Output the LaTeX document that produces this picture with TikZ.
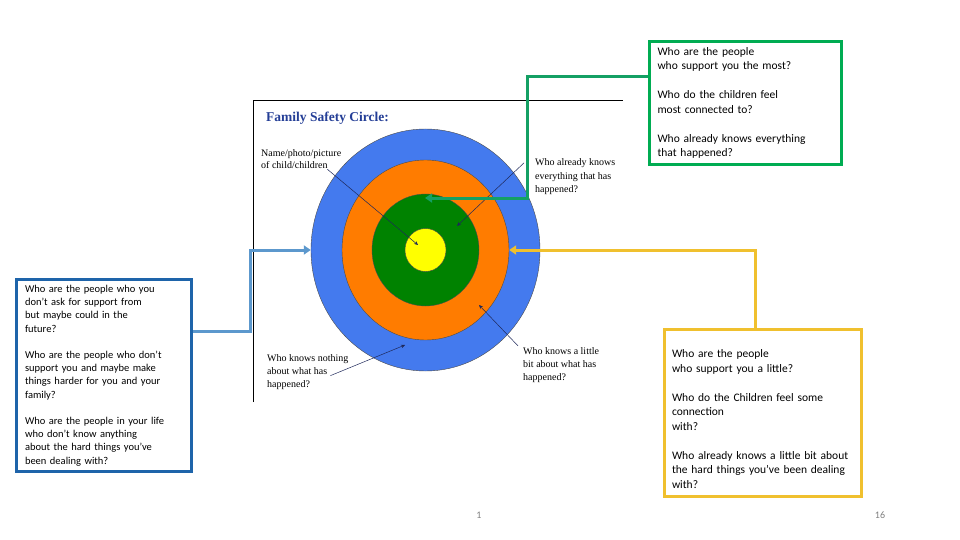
\documentclass[tikz,border=0pt]{standalone}
\usepackage{fontspec}
\setmainfont{Carlito}
\newfontfamily\imgfont{Liberation Serif}
\usetikzlibrary{shapes.geometric, arrows.meta, calc}
\definecolor{ringblue}{RGB}{68,122,238}
\definecolor{ringorange}{RGB}{255,124,0}
\definecolor{ringgreen}{RGB}{0,130,0}
\definecolor{ringyellow}{RGB}{255,255,0}
\definecolor{titleblue}{RGB}{36,62,150}
\definecolor{navy}{RGB}{30,40,90}
\definecolor{boxgreen}{RGB}{0,172,82}
\definecolor{linegreen}{RGB}{20,160,100}
\definecolor{boxblue}{RGB}{30,100,170}
\definecolor{lineblue}{RGB}{92,152,205}
\definecolor{boxgold}{RGB}{240,192,46}
\tikzset{ring/.style={ellipse, draw=black!70, line width=0.4pt, inner sep=0pt},
         askbox/.style={draw, line width=3pt, fill=white, align=left, inner ysep=0pt},
         imgtext/.style={anchor=base west, inner sep=0pt, align=left, font=\imgfont\fontsize{10}{13}\selectfont},
         hint/.style={draw=navy, line width=0.5pt, -{Stealth[length=4pt,width=3.5pt]}},
         link/.style={line width=3pt, -{Triangle[length=7pt,width=9pt]}},
         pagenum/.style={text=gray, font=\fontsize{10}{12}\selectfont},
        }
\begin{document}
\begin{tikzpicture}[x=1pt,y=-1pt]
        \useasboundingbox (0,0) rectangle (960,540);
        % the picture: frame, title, rings
        \draw[line width=0.8pt] (253,402) -- (253,100) -- (623,100);
        \node[anchor=base west, inner sep=0pt, text=titleblue, font=\imgfont\bfseries\fontsize{13.5}{15}\selectfont](title)at(266,122){Family Safety Circle:};
        \coordinate (mid) at (425.5,250);
        \node[ring, fill=ringblue, minimum width=229pt, minimum height=242pt](ring1)at(mid){};
        \node[ring, fill=ringorange, minimum width=167pt, minimum height=180pt](ring2)at(mid){};
        \node[ring, fill=ringgreen, minimum width=107pt, minimum height=112pt](ring3)at(mid){};
        \node[ring, fill=ringyellow, minimum width=41pt, minimum height=43pt](ring4)at(mid){};

        \node[imgtext](child)at(261,169){Name/photo/picture\\of child/children};
        \node[imgtext](allknow)at(535,192){Who already knows\\everything that has\\happened?};
        \node[imgtext](little)at(523,380){Who knows a little\\bit about what has\\happened?};
        \node[imgtext](nothing)at(267,387){Who knows nothing\\about what has\\happened?};

        \coordinate (t1) at (418,245);
        \coordinate (t2) at (457,226);
        \coordinate (t3) at (479,305);
        \coordinate (t4) at (405,345);
        \draw[hint]($(child.south east)+(-14,0)$)--(t1);
        \draw[hint]($(allknow.north west)+(-11,4)$)--(t2);
        \draw[hint]($(little.north west)+(-5,-1)$)--(t3);
        \draw[hint]($(nothing.east)+(-18,4)$)--(t4);

        % question boxes
        \node[askbox, draw=boxgreen, text width=176pt, inner xsep=8pt, minimum width=192pt, minimum height=123pt, font=\fontsize{11.5}{14.5}\selectfont](gbox)at(745.5,103){Who are the people\\who support you the most?\\[14.5pt]Who do the children feel\\most connected to?\\[14.5pt]Who already knows everything\\that happened?};
        \node[askbox, draw=boxblue, text width=158pt, inner xsep=8.5pt, minimum width=175pt, minimum height=192pt, font=\fontsize{10.5}{13.2}\selectfont](bbox)at(104,375.5){Who are the people who you\\don’t ask for support from\\but maybe could in the\\future?\\[13.2pt]Who are the people who don’t\\support you and maybe make\\things harder for you and your\\family?\\[13.2pt]Who are the people in your life\\who don’t know anything\\about the hard things you’ve\\been dealing with?};
        \node[askbox, draw=boxgold, text width=182pt, inner xsep=7.5pt, minimum width=197pt, minimum height=167pt, font=\fontsize{11.5}{14.5}\selectfont](ybox)at(763,413){\rule{0pt}{20pt}Who are the people\\who support you a little?\\[14.5pt]Who do the Children feel some\\connection\\with?\\[14.5pt]Who already knows a little bit about\\the hard things you’ve been dealing\\with?};

        \coordinate (gtip) at (425,198);
        \draw[link, draw=linegreen]($(gbox.north west)+(0,37)$) -| ($(gtip)+(102,0)$) -- (gtip);
        \draw[link, draw=lineblue]($(bbox.north east)+(0,53.5)$) -| ($(ring1.west)+(-60,0)$) -- (ring1.west);
        \draw[link, draw=boxgold]($(ybox.north)+(-8,0)$) |- (ring2.east);

        \node[pagenum](pga)at(479,515){1};
        \node[pagenum](pgb)at(880,515){16};
    \end{tikzpicture}
\end{document}
